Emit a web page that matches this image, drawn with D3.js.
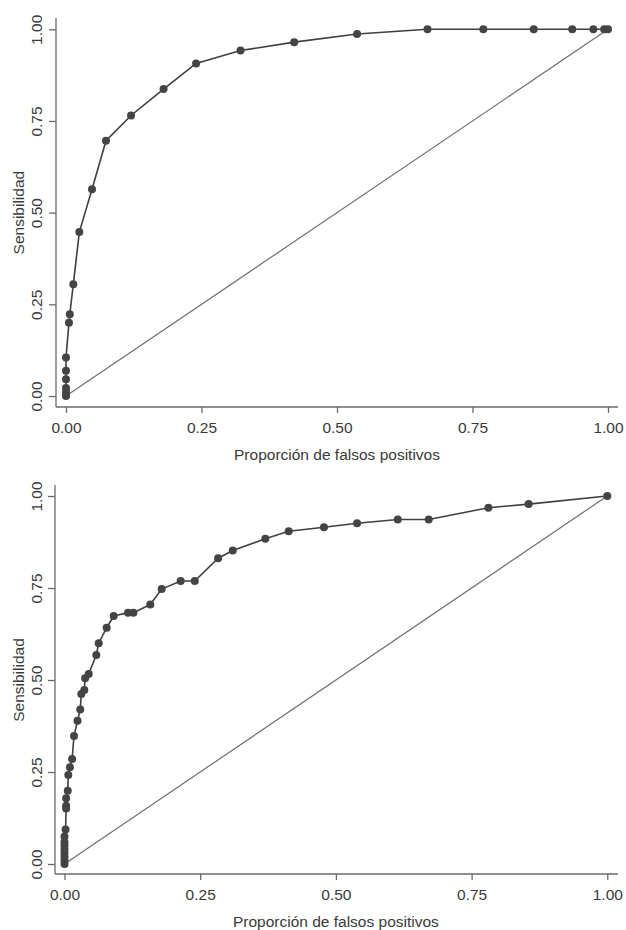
<!DOCTYPE html>
<html lang="es">
<head>
  <meta charset="UTF-8">
  <title>Curvas ROC</title>
  <script src="https://d3js.org/d3.v7.min.js"></script>
  <style>
    body { margin: 0; background: #fff; }
    svg { display: block; background: #fff; }
    text { font-family: "Liberation Sans", Arial, sans-serif; fill: #3a3a3a; }
  </style>
</head>
<body>
  <svg width="626" height="930"></svg>
  <script>
  // Tick values shared by both panels
  const ticks = [0, 0.25, 0.5, 0.75, 1];
  const xTitle = "Proporción de falsos positivos";
  const yTitle = "Sensibilidad";

  // Panel A (top) ROC points
  const fprA  = [0, 0, 0, 0, 0, 0, 0.0055, 0.007, 0.0135, 0.0246, 0.048, 0.0738, 0.12, 0.18, 0.24,
                 0.322, 0.421, 0.537, 0.667, 0.77, 0.863, 0.934, 0.973, 0.993, 1.0];
  const sensA = [0, 0.01, 0.022, 0.046, 0.069, 0.105, 0.2, 0.223, 0.305, 0.447, 0.564, 0.696, 0.765, 0.837, 0.907,
                 0.942, 0.965, 0.987, 1, 1, 1, 1, 1, 1, 1];

  // Panel B (bottom) ROC points
  const fprB  = [0, 0, 0, 0, 0, 0, 0, 0, 0.002, 0.003, 0.003, 0.003, 0.006, 0.007, 0.010, 0.014, 0.0175,
                 0.024, 0.029, 0.031, 0.0365, 0.038, 0.0446, 0.0586, 0.063, 0.0777, 0.0906, 0.117, 0.127,
                 0.158, 0.179, 0.214, 0.24, 0.283, 0.31, 0.37, 0.413, 0.478, 0.539, 0.614, 0.671, 0.781,
                 0.855, 1.0];
  const sensB = [0, 0.01, 0.02, 0.03, 0.04, 0.05, 0.06, 0.075, 0.094, 0.151, 0.158, 0.179, 0.199, 0.242,
                 0.263, 0.285, 0.348, 0.389, 0.42, 0.462, 0.473, 0.505, 0.516, 0.568, 0.6, 0.642, 0.674,
                 0.683, 0.683, 0.705, 0.747, 0.769, 0.769, 0.831, 0.852, 0.884, 0.904, 0.915, 0.926, 0.936,
                 0.936, 0.968, 0.978, 1.0];

  const svg = d3.select("svg");
  const fontSize = 15.5;

  // draw one ROC panel; box gives pixel placement of the data area and axes
  function drawPanel(fpr, sens, box) {
    const x = d3.scaleLinear().domain([0, 1]).range([box.x0, box.x1]);
    const y = d3.scaleLinear().domain([0, 1]).range([box.y0, box.y1]);
    const g = svg.append("g");

    // axis lines
    g.append("line")
      .attr("x1", box.axisX).attr("x2", box.axisX)
      .attr("y1", box.top).attr("y2", box.axisY)
      .attr("stroke", "#6a6a6a").attr("stroke-width", 1.3);
    g.append("line")
      .attr("x1", box.axisX).attr("x2", box.right)
      .attr("y1", box.axisY).attr("y2", box.axisY)
      .attr("stroke", "#6a6a6a").attr("stroke-width", 1.3);

    // x axis ticks + labels
    const xAxis = g.append("g")
      .attr("transform", `translate(0,${box.axisY})`)
      .call(d3.axisBottom(x).tickValues(ticks).tickSize(6).tickSizeOuter(0).tickFormat(d3.format(".2f")));
    xAxis.select(".domain").remove();
    xAxis.selectAll(".tick line").attr("stroke", "#6a6a6a").attr("stroke-width", 1.3);
    xAxis.selectAll(".tick text")
      .attr("y", 0).attr("dy", 0)
      .attr("transform", "translate(0,26)")
      .style("font-size", fontSize + "px")
      .style("font-family", "'Liberation Sans', Arial, sans-serif")
      .attr("fill", "#3a3a3a");

    // y axis ticks + rotated labels
    const yAxis = g.append("g")
      .attr("transform", `translate(${box.axisX},0)`)
      .call(d3.axisLeft(y).tickValues(ticks).tickSize(7).tickSizeOuter(0).tickFormat(d3.format(".2f")));
    yAxis.select(".domain").remove();
    yAxis.selectAll(".tick line").attr("stroke", "#6a6a6a").attr("stroke-width", 1.3);
    yAxis.selectAll(".tick text")
      .attr("x", 0).attr("dy", 0)
      .attr("text-anchor", "middle")
      .attr("transform", `translate(${42 - box.axisX},0) rotate(-90)`)
      .style("font-size", fontSize + "px")
      .style("font-family", "'Liberation Sans', Arial, sans-serif")
      .attr("fill", "#3a3a3a");

    // axis titles
    g.append("text")
      .attr("x", (box.x0 + box.x1) / 2)
      .attr("y", box.axisY + 53)
      .attr("text-anchor", "middle")
      .style("font-size", fontSize + "px")
      .text(xTitle);
    g.append("text")
      .attr("transform", `translate(24,${(box.y0 + box.y1) / 2}) rotate(-90)`)
      .attr("text-anchor", "middle")
      .style("font-size", fontSize + "px")
      .text(yTitle);

    // reference diagonal
    g.append("line")
      .attr("x1", x(0)).attr("y1", y(0))
      .attr("x2", x(1)).attr("y2", y(1))
      .attr("stroke", "#6e6e6e").attr("stroke-width", 1.2);

    // ROC curve
    const pts = fpr.map((f, i) => ({ f: f, s: sens[i] }));
    g.append("path")
      .datum(pts)
      .attr("fill", "none")
      .attr("stroke", "#3f3f3f")
      .attr("stroke-width", 1.6)
      .attr("d", d3.line().x(d => x(d.f)).y(d => y(d.s)));

    g.selectAll("circle")
      .data(pts)
      .enter()
      .append("circle")
      .attr("cx", d => x(d.f))
      .attr("cy", d => y(d.s))
      .attr("r", 4)
      .attr("fill", "#444");
  }

  drawPanel(fprA, sensA, { x0: 66, x1: 608, y0: 396, y1: 29.3, axisX: 56, axisY: 407, top: 18, right: 618 });
  drawPanel(fprB, sensB, { x0: 64.5, x1: 607.3, y0: 864, y1: 496, axisX: 55, axisY: 874, top: 485, right: 618 });
  </script>
</body>
</html>
